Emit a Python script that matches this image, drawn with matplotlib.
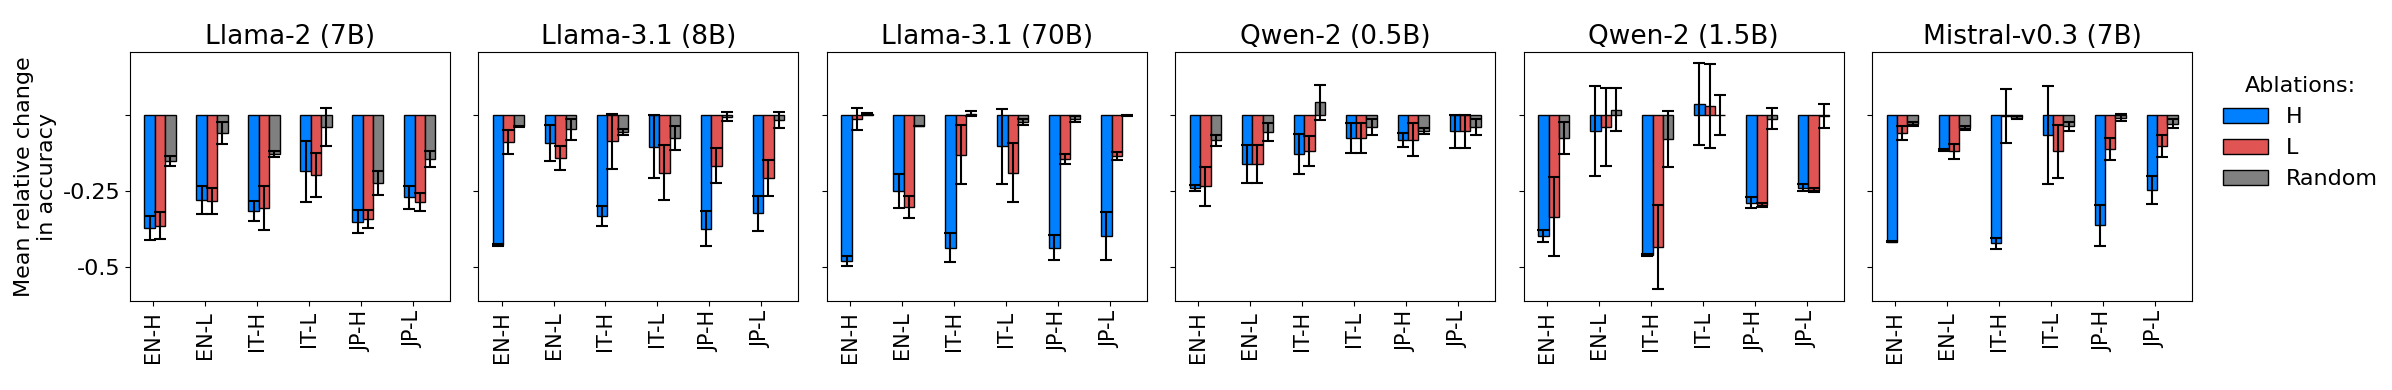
import matplotlib
matplotlib.use("Agg")
import matplotlib.pyplot as plt
import numpy as np

# Datos
categorias = ["EN-H", "EN-L", "IT-H", "IT-L", "JP-H", "JP-L"]
modelos = ["Llama-2 (7B)", "Llama-3.1 (8B)", "Llama-3.1 (70B)",
           "Qwen-2 (0.5B)", "Qwen-2 (1.5B)", "Mistral-v0.3 (7B)"]
ablaciones = ["H", "L", "Random"]

# media por modelo, ablacion (H, L, Random), categoria
media_llama2_7b = [[-0.371, -0.280, -0.314, -0.185, -0.350, -0.270],
                   [-0.363, -0.282, -0.305, -0.197, -0.341, -0.285],
                   [-0.151, -0.060, -0.128, -0.040, -0.223, -0.145]]
err_llama2_7b = [[0.039, 0.046, 0.033, 0.099, 0.037, 0.037],
                 [0.044, 0.043, 0.072, 0.073, 0.029, 0.029],
                 [0.015, 0.035, 0.011, 0.062, 0.039, 0.025]]

media_llama31_8b = [[-0.427, -0.092, -0.332, -0.104, -0.373, -0.322],
                    [-0.089, -0.142, -0.087, -0.189, -0.166, -0.207],
                    [-0.038, -0.047, -0.055, -0.076, -0.006, -0.016]]
err_llama31_8b = [[0.003, 0.059, 0.033, 0.102, 0.058, 0.057],
                  [0.038, 0.039, 0.090, 0.090, 0.058, 0.059],
                  [0.003, 0.035, 0.010, 0.038, 0.014, 0.026]]

media_llama31_70b = [[-0.478, -0.249, -0.435, -0.103, -0.435, -0.396],
                     [-0.013, -0.302, -0.130, -0.189, -0.145, -0.135],
                     [0.002, -0.036, 0.003, -0.022, -0.014, -0.002]]
err_llama31_70b = [[0.017, 0.055, 0.048, 0.123, 0.042, 0.079],
                   [0.035, 0.036, 0.098, 0.097, 0.016, 0.014],
                   [0.003, 0.001, 0.008, 0.010, 0.009, 0.001]]

media_qwen2_05b = [[-0.239, -0.161, -0.129, -0.077, -0.082, -0.054],
                   [-0.234, -0.161, -0.118, -0.077, -0.082, -0.054],
                   [-0.083, -0.057, 0.041, -0.040, -0.053, -0.041]]
err_qwen2_05b = [[0.009, 0.063, 0.066, 0.049, 0.024, 0.054],
                 [0.063, 0.063, 0.048, 0.049, 0.054, 0.054],
                 [0.018, 0.030, 0.057, 0.025, 0.011, 0.026]]

media_qwen2_15b = [[-0.396, -0.053, -0.459, 0.035, -0.288, -0.239],
                   [-0.333, -0.039, -0.432, 0.029, -0.296, -0.245],
                   [-0.075, 0.017, -0.080, -0.001, -0.012, -0.004]]
err_qwen2_15b = [[0.020, 0.147, 0.004, 0.134, 0.018, 0.011],
                 [0.128, 0.127, 0.138, 0.139, 0.007, 0.007],
                 [0.052, 0.070, 0.092, 0.065, 0.035, 0.038]]

media_mistral_7b = [[-0.415, -0.115, -0.421, -0.067, -0.361, -0.246],
                    [-0.060, -0.120, -0.004, -0.120, -0.112, -0.102],
                    [-0.029, -0.043, -0.009, -0.038, -0.009, -0.029]]
err_mistral_7b = [[0.002, 0.002, 0.018, 0.161, 0.067, 0.045],
                  [0.024, 0.023, 0.088, 0.088, 0.036, 0.036],
                  [0.006, 0.005, 0.004, 0.016, 0.011, 0.015]]

medias = [media_llama2_7b, media_llama31_8b, media_llama31_70b,
          media_qwen2_05b, media_qwen2_15b, media_mistral_7b]
errores = [err_llama2_7b, err_llama31_8b, err_llama31_70b,
           err_qwen2_05b, err_qwen2_15b, err_mistral_7b]

colores = ["#007fff", "#e15454", "#808080"]
ancho = 0.2
x = np.arange(len(categorias))

fig, axes = plt.subplots(1, 6, sharey=True, figsize=(23.92, 3.9), dpi=100)
fig.subplots_adjust(left=0.0543, right=0.9165, bottom=0.228, top=0.866, wspace=0.0885)

for ax, modelo, media, err in zip(axes, modelos, medias, errores):
    for k, abl in enumerate(ablaciones):
        ax.bar(x + k * ancho, media[k], ancho, yerr=err[k], color=colores[k],
               edgecolor="black", linewidth=1.0, label=abl,
               error_kw=dict(ecolor="black", elinewidth=1.5, capsize=4, capthick=1.5))
    ax.set_title(modelo, fontsize=19)
    ax.set_xticks(x + ancho / 3)
    ax.set_xticklabels(categorias, rotation=90, fontsize=15)

axes[0].set_ylim(-0.61, 0.205)
axes[0].set_yticks([0, -0.25, -0.5])
axes[0].set_yticklabels(["", "-0.25", "-0.5"], fontsize=16)
axes[0].set_ylabel("Mean relative change\nin accuracy", fontsize=16)

axes[-1].legend(title="Ablations:", loc="upper left", bbox_to_anchor=(1.035, 0.985),
                frameon=False, fontsize=16, title_fontsize=16, handlelength=2.0)

fig.savefig("out.png", dpi=100)
